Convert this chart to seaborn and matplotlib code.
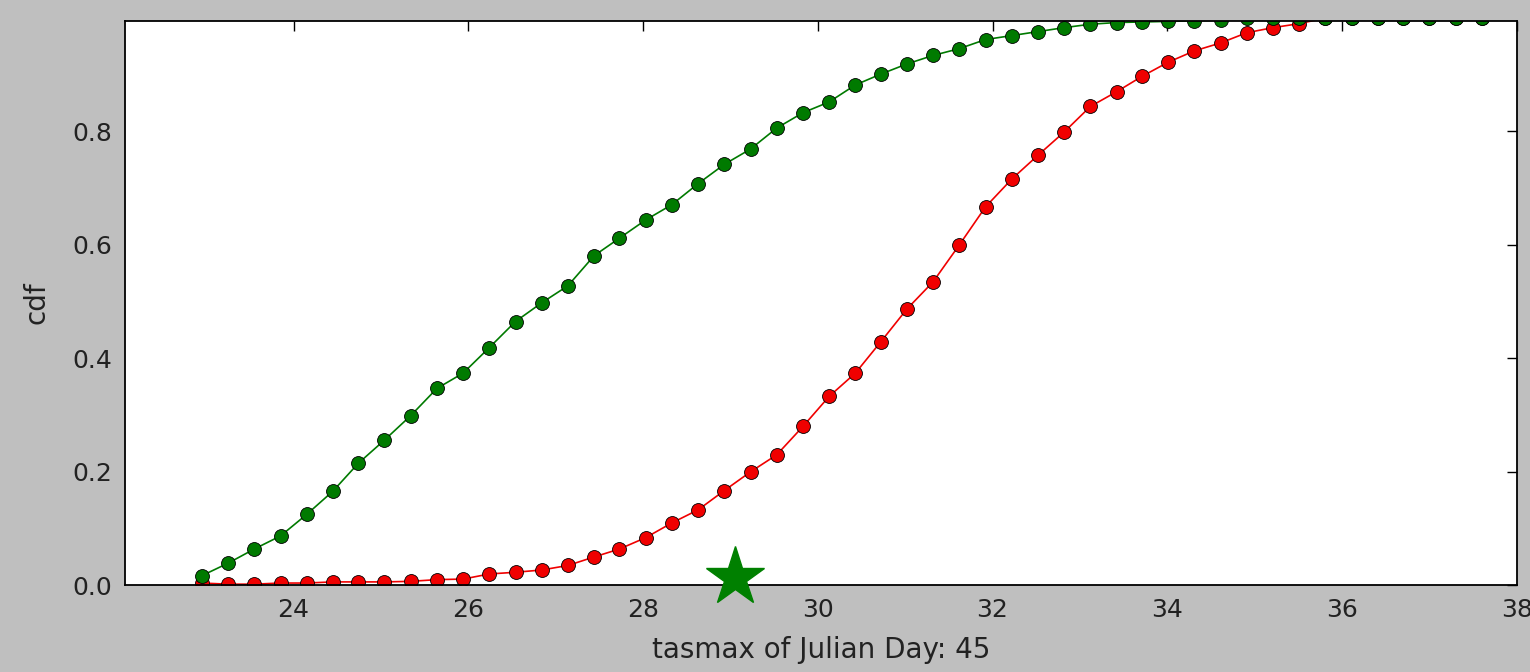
import numpy as np
import pandas as pd
import seaborn as sns
import matplotlib.pyplot as plt

# Temperature bins (tasmax, deg C) shared by both curves
tasmax = [22.95, 23.25, 23.55, 23.85, 24.15, 24.45, 24.74, 25.04, 25.34, 25.64,
          25.94, 26.24, 26.54, 26.84, 27.14, 27.44, 27.73, 28.03, 28.33, 28.63,
          28.93, 29.23, 29.53, 29.83, 30.13, 30.43, 30.72, 31.02, 31.32, 31.62,
          31.92, 32.22, 32.52, 32.82, 33.12, 33.42, 33.71, 34.01, 34.31, 34.61,
          34.91, 35.21, 35.51, 35.81, 36.11, 36.41, 36.70, 37.00, 37.30, 37.60]

# Green curve
cdf_green = [0.017, 0.039, 0.064, 0.087, 0.125, 0.166, 0.215, 0.256, 0.299, 0.347,
             0.374, 0.419, 0.465, 0.498, 0.528, 0.581, 0.612, 0.644, 0.671, 0.708,
             0.742, 0.769, 0.806, 0.833, 0.852, 0.882, 0.901, 0.919, 0.934, 0.946,
             0.962, 0.969, 0.976, 0.983, 0.989, 0.992, 0.993, 0.994, 0.995, 0.996,
             1.0, 1.0, 1.0, 1.0, 1.0, 1.0, 1.0, 1.0, 1.0, 1.0]

# Red curve
cdf_red = [0.004, 0.002, 0.002, 0.004, 0.004, 0.006, 0.006, 0.006, 0.007, 0.010,
           0.011, 0.020, 0.023, 0.027, 0.035, 0.050, 0.064, 0.084, 0.110, 0.133,
           0.167, 0.200, 0.230, 0.280, 0.333, 0.374, 0.429, 0.487, 0.535, 0.600,
           0.667, 0.716, 0.758, 0.799, 0.844, 0.870, 0.897, 0.922, 0.942, 0.956,
           0.974, 0.983, 0.990, 1.0, 1.0, 1.0, 1.0, 1.0, 1.0, 1.0]

# Observed value marked with a star
star_x = 29.05
star_y = 0.015
julian_day = 45

df = pd.DataFrame({'tasmax': tasmax * 2,
                   'cdf': cdf_red + cdf_green,
                   'curve': ['red'] * len(tasmax) + ['green'] * len(tasmax)})

sns.set_style('white')
plt.rcParams['font.family'] = ['DejaVu Sans']

fig = plt.figure(figsize=(15.3, 6.72), dpi=100, facecolor='#bfbfbf')
ax = fig.add_axes([0.0817, 0.129, 0.9096, 0.84])
ax.set_facecolor('white')

sns.lineplot(data=df, x='tasmax', y='cdf', hue='curve',
             palette={'red': '#f00000', 'green': '#007a00'},
             marker='o', markersize=10, markeredgecolor='black',
             markeredgewidth=0.6, linewidth=1.2, legend=False, ax=ax)

ax.plot(star_x, star_y, marker='*', markersize=44, color='#008000',
        markeredgecolor='#008000', clip_on=False, zorder=5)

ax.set_xlim(22.07, 38)
ax.set_ylim(0, 0.995)
ax.set_xticks([24, 26, 28, 30, 32, 34, 36, 38])
ax.set_yticks([0.0, 0.2, 0.4, 0.6, 0.8])
ax.yaxis.set_major_formatter(plt.FormatStrFormatter('%.1f'))
ax.tick_params(direction='in', length=7, width=1, top=True, right=True,
               labelsize=18, labelcolor='#222222', colors='black', pad=9)
for s in ax.spines.values():
    s.set_color('black')
    s.set_linewidth(1.3)

ax.set_xlabel(f'tasmax of Julian Day: {julian_day}', fontsize=20,
              color='#222222', labelpad=10)
ax.set_ylabel('cdf', fontsize=20, color='#222222', labelpad=16)

fig.savefig('out.png', dpi=100, facecolor=fig.get_facecolor())
